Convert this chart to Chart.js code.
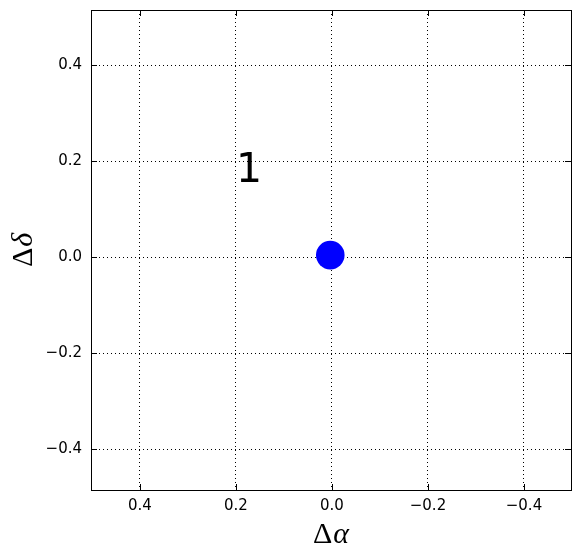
<!DOCTYPE html>
<html><head><meta charset="utf-8">
<script src="https://cdn.jsdelivr.net/npm/chart.js@4/dist/chart.umd.min.js"></script>
<style>html,body{margin:0;padding:0;background:#fff}#wrap{width:580px;height:558px}</style>
</head><body><div id="wrap"><canvas id="c" width="580" height="558"></canvas></div>
<script>
// data
const pointX = [0.0035];
const pointY = [0.004];
const labelText = ['1'];
const labelX = [0.2];
const labelY = [0.157];
const xTickValues = [0.4, 0.2, 0.0, -0.2, -0.4];
const xTickLabels = ['0.4', '0.2', '0.0', '\u22120.2', '\u22120.4'];
const yTickValues = [-0.4, -0.2, 0.0, 0.2, 0.4];
const yTickLabels = ['\u22120.4', '\u22120.2', '0.0', '0.2', '0.4'];
const xRange = [-0.498, 0.502];
const yRange = [-0.4854, 0.5146];
const xTitle = ['\u0394', '\u03b1'];
const yTitle = ['\u0394', '\u03b4'];

const tickFont = {family: 'DejaVu Sans', size: 15};

const framePlugin = {
  id: 'frame',
  afterDraw(chart) {
    const ctx = chart.ctx, a = chart.chartArea;
    const xs = chart.scales.x, ys = chart.scales.y;
    ctx.save();
    ctx.strokeStyle = '#000';
    ctx.lineWidth = 1;
    const tl = 6;
    ctx.beginPath();
    xTickValues.forEach(v => {
      const px = Math.round(xs.getPixelForValue(v)) + 0.5;
      ctx.moveTo(px, a.bottom); ctx.lineTo(px, a.bottom - tl);
      ctx.moveTo(px, a.top); ctx.lineTo(px, a.top + tl);
    });
    yTickValues.forEach(v => {
      const py = Math.round(ys.getPixelForValue(v)) + 0.5;
      ctx.moveTo(a.left, py); ctx.lineTo(a.left + tl, py);
      ctx.moveTo(a.right, py); ctx.lineTo(a.right - tl, py);
    });
    ctx.stroke();
    ctx.strokeRect(a.left + 0.5, a.top + 0.5, a.right - a.left, a.bottom - a.top);
    ctx.fillStyle = '#000';
    ctx.font = '41px "DejaVu Sans"';
    ctx.textAlign = 'left';
    ctx.textBaseline = 'alphabetic';
    labelText.forEach((t, i) => {
      ctx.fillText(t, xs.getPixelForValue(labelX[i]), ys.getPixelForValue(labelY[i]));
    });
    const drawTitle = (parts) => {
      ctx.font = '30px "Liberation Serif"';
      const w1 = ctx.measureText(parts[0]).width;
      ctx.font = 'italic 30px "Liberation Serif"';
      const w2 = ctx.measureText(parts[1]).width;
      const total = w1 + w2 + 1;
      ctx.font = '30px "Liberation Serif"';
      ctx.fillText(parts[0], -total / 2, 0);
      ctx.font = 'italic 30px "Liberation Serif"';
      ctx.fillText(parts[1], -total / 2 + w1 + 1, 0);
    };
    ctx.save();
    ctx.translate((a.left + a.right) / 2, 543);
    drawTitle(xTitle);
    ctx.restore();
    ctx.save();
    ctx.translate(32, (a.top + a.bottom) / 2);
    ctx.rotate(-Math.PI / 2);
    drawTitle(yTitle);
    ctx.restore();
    ctx.restore();
  }
};

new Chart(document.getElementById('c'), {
  type: 'scatter',
  data: {
    datasets: [{
      data: pointX.map((x, i) => ({x: x, y: pointY[i]})),
      backgroundColor: '#0000ff',
      borderColor: '#0000ff',
      borderWidth: 0,
      pointRadius: 14.3,
      pointHoverRadius: 14.3
    }]
  },
  options: {
    responsive: false,
    devicePixelRatio: 1,
    animation: false,
    events: [],
    layout: {autoPadding: false, padding: {top: 10, right: 9, left: 0, bottom: 0}},
    plugins: {legend: {display: false}, tooltip: {enabled: false}},
    scales: {
      x: {
        type: 'linear', reverse: true, min: xRange[0], max: xRange[1],
        afterBuildTicks: s => { s.ticks = xTickValues.map(v => ({value: v})); },
        afterFit: s => { s.height = 68; s.paddingLeft = 0; s.paddingRight = 0; s.paddingTop = 0; s.paddingBottom = 0; },
        ticks: {
          font: tickFont, color: '#000', padding: 7, maxRotation: 0, autoSkip: false,
          callback: (v) => { const i = xTickValues.findIndex(t => Math.abs(t - v) < 1e-9); return i >= 0 ? xTickLabels[i] : ''; }
        },
        grid: {color: '#000', lineWidth: 1, drawTicks: false},
        border: {display: false, dash: [1, 3]}
      },
      y: {
        type: 'linear', min: yRange[0], max: yRange[1],
        afterBuildTicks: s => { s.ticks = yTickValues.map(v => ({value: v})); },
        afterFit: s => { s.width = 91; s.paddingLeft = 0; s.paddingRight = 0; s.paddingTop = 0; s.paddingBottom = 0; },
        ticks: {
          font: tickFont, color: '#000', padding: 9, autoSkip: false,
          callback: (v) => { const i = yTickValues.findIndex(t => Math.abs(t - v) < 1e-9); return i >= 0 ? yTickLabels[i] : ''; }
        },
        grid: {color: '#000', lineWidth: 1, drawTicks: false},
        border: {display: false, dash: [1, 3]}
      }
    }
  },
  plugins: [framePlugin]
});
</script>
</body></html>
